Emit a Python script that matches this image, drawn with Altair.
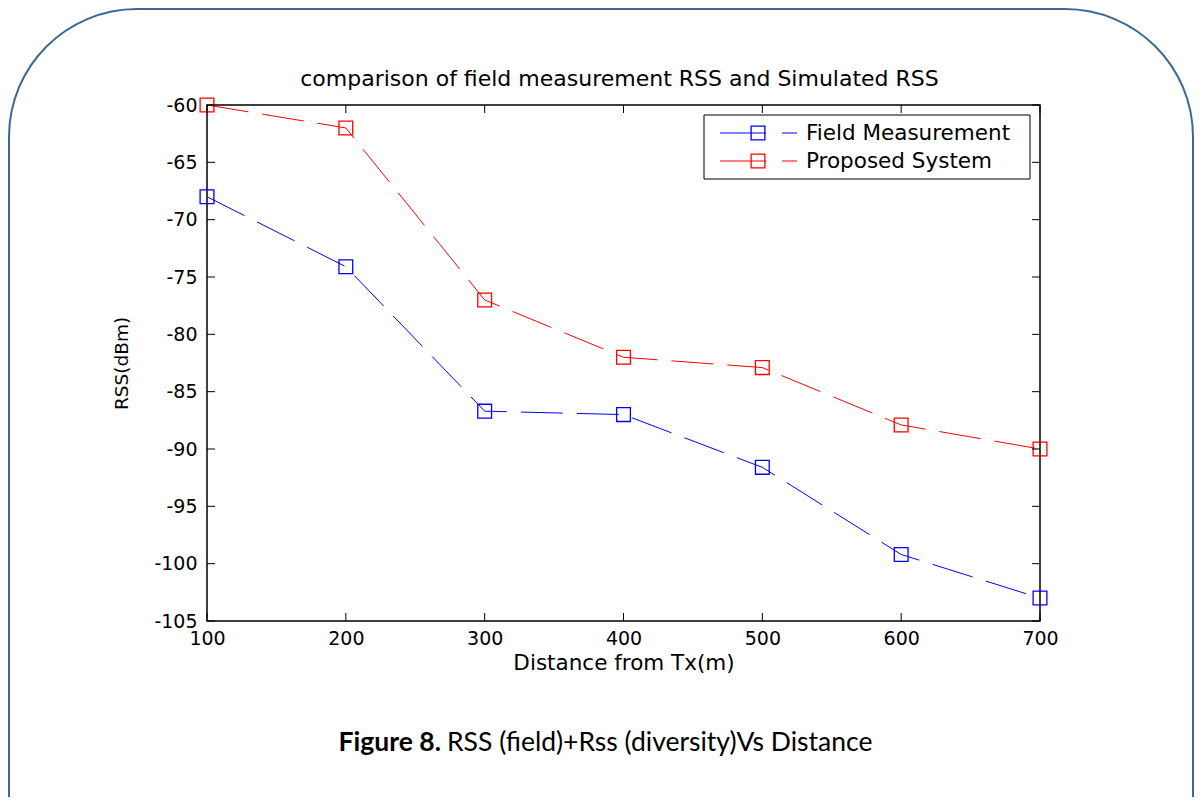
import altair as alt
import pandas as pd

# ---------------- data ----------------
distance = [100, 200, 300, 400, 500, 600, 700]
field_measurement = [-68.0, -74.1, -86.7, -87.0, -91.6, -99.2, -103.0]
proposed_system = [-60.0, -62.0, -77.0, -82.0, -82.9, -87.9, -90.0]
series_names = ["Field Measurement", "Proposed System"]
series_colors = ["#0000ff", "#ff0000"]
x_ticks = [100, 200, 300, 400, 500, 600, 700]
y_ticks = [-105, -100, -95, -90, -85, -80, -75, -70, -65, -60]
title_text = "comparison of field measurement RSS and Simulated RSS"
x_title = "Distance from Tx(m)"
y_title = "RSS(dBm)"
caption_bold = "Figure 8."
caption_rest = "RSS (field)+Rss (diversity)Vs Distance"

# ---------------- layout ----------------
W, H = 833, 516
PAD_L, PAD_T = 199, 97
FONT = "DejaVu Sans"
CAP_FONT = "Lato"

df = pd.DataFrame({
    "distance": distance * 2,
    "rss": field_measurement + proposed_system,
    "series": [series_names[0]] * len(distance) + [series_names[1]] * len(distance),
})

xs = alt.Scale(domain=[100, 700], nice=False, zero=False)
ys = alt.Scale(domain=[-105, -60], nice=False, zero=False)
cs = alt.Scale(domain=series_names, range=series_colors)

x_axis = alt.Axis(values=x_ticks, title=x_title, ticks=False, domain=False, grid=False,
                  labelPadding=8, labelFlush=False, labelOverlap=False,
                  labelFont=FONT, labelFontSize=19, labelColor="black",
                  labelExpr="'' + datum.value",
                  titleFont=FONT, titleFontSize=21.5, titleFontWeight="normal", titleColor="black",
                  titleBaseline="alphabetic", titleX=W / 2, titleY=48)
y_axis = alt.Axis(values=y_ticks, title=y_title, ticks=False, domain=False, grid=False,
                  labelPadding=10, labelFlush=False, labelOverlap=False,
                  labelFont=FONT, labelFontSize=19, labelColor="black",
                  labelExpr="'' + datum.value",
                  titleFont=FONT, titleFontSize=18.5, titleFontWeight="normal", titleColor="black",
                  titleBaseline="middle", titleX=-86, titleY=H / 2)

base = alt.Chart(df).encode(
    x=alt.X("distance:Q", scale=xs, axis=x_axis),
    y=alt.Y("rss:Q", scale=ys, axis=y_axis),
    color=alt.Color("series:N", scale=cs, legend=None),
)
lines = base.mark_line(strokeDash=[42, 14], strokeWidth=1)
points = base.mark_point(shape="square", size=190, filled=False, strokeWidth=1.3, opacity=1)

# inward ticks on all four sides
xt = pd.DataFrame({"distance": x_ticks})
yt = pd.DataFrame({"rss": y_ticks})
TL = 8
tick_bottom = alt.Chart(xt).mark_rule(color="black", strokeWidth=1).encode(
    x=alt.X("distance:Q", scale=xs, axis=x_axis), y=alt.value(H), y2=alt.value(H - TL))
tick_top = alt.Chart(xt).mark_rule(color="black", strokeWidth=1).encode(
    x=alt.X("distance:Q", scale=xs, axis=x_axis), y=alt.value(0), y2=alt.value(TL))
tick_left = alt.Chart(yt).mark_rule(color="black", strokeWidth=1).encode(
    y=alt.Y("rss:Q", scale=ys, axis=y_axis), x=alt.value(0), x2=alt.value(TL))
tick_right = alt.Chart(yt).mark_rule(color="black", strokeWidth=1).encode(
    y=alt.Y("rss:Q", scale=ys, axis=y_axis), x=alt.value(W), x2=alt.value(W - TL))

one = pd.DataFrame({"k": [0]})

# rounded page frame
frame = alt.Chart(one).mark_rect(cornerRadius=128, filled=False, stroke="#3c6898",
                                 strokeWidth=2).encode(
    x=alt.value(-PAD_L + 1), x2=alt.value(986), y=alt.value(-PAD_T + 1), y2=alt.value(900))

# legend
LX0, LX1, LY0, LY1 = 497, 823, 10, 74
legend_box = alt.Chart(one).mark_rect(fill="white", stroke="black", strokeWidth=1).encode(
    x=alt.value(LX0), x2=alt.value(LX1), y=alt.value(LY0), y2=alt.value(LY1))
legend_layers = []
row_y = [28, 56]
for i, name in enumerate(series_names):
    d = pd.DataFrame({"series": [name]})
    col = alt.Color("series:N", scale=cs, legend=None)
    legend_layers.append(alt.Chart(d).mark_rule(strokeWidth=1).encode(
        color=col, x=alt.value(513), x2=alt.value(559), y=alt.value(row_y[i])))
    legend_layers.append(alt.Chart(d).mark_point(shape="square", size=190, filled=False,
                                                 strokeWidth=1.3, opacity=1).encode(
        color=col, x=alt.value(551), y=alt.value(row_y[i])))
    legend_layers.append(alt.Chart(d).mark_rule(strokeWidth=1).encode(
        color=col, x=alt.value(575), x2=alt.value(590), y=alt.value(row_y[i])))
    legend_layers.append(alt.Chart(d).mark_text(align="left", baseline="middle", font=FONT,
                                                fontSize=21.5, color="black").encode(
        text="series:N", x=alt.value(599), y=alt.value(row_y[i] + 1)))

# title and caption
title = alt.Chart(pd.DataFrame({"t": [title_text]})).mark_text(
    align="center", baseline="alphabetic", font=FONT, fontSize=22, color="black").encode(
    text="t:N", x=alt.value(W / 2 - 4), y=alt.value(-19))
cap1 = alt.Chart(pd.DataFrame({"t": [caption_bold]})).mark_text(
    align="right", baseline="alphabetic", font=CAP_FONT, fontSize=26.5, fontWeight="bold",
    color="black").encode(text="t:N", x=alt.value(234), y=alt.value(646))
cap2 = alt.Chart(pd.DataFrame({"t": [caption_rest]})).mark_text(
    align="left", baseline="alphabetic", font=CAP_FONT, fontSize=26.5, color="black").encode(
    text="t:N", x=alt.value(240), y=alt.value(646))

chart = alt.layer(
    frame, lines, points, tick_bottom, tick_top, tick_left, tick_right,
    legend_box, *legend_layers, title, cap1, cap2
).resolve_scale(color="shared").properties(
    width=W, height=H,
    autosize=alt.AutoSizeParams(type="none"),
    padding={"left": PAD_L, "top": PAD_T, "right": 155, "bottom": 176},
).configure_view(stroke="black", strokeWidth=1.5)

chart.save("out.html", embed_options={"renderer": "svg", "actions": False})
